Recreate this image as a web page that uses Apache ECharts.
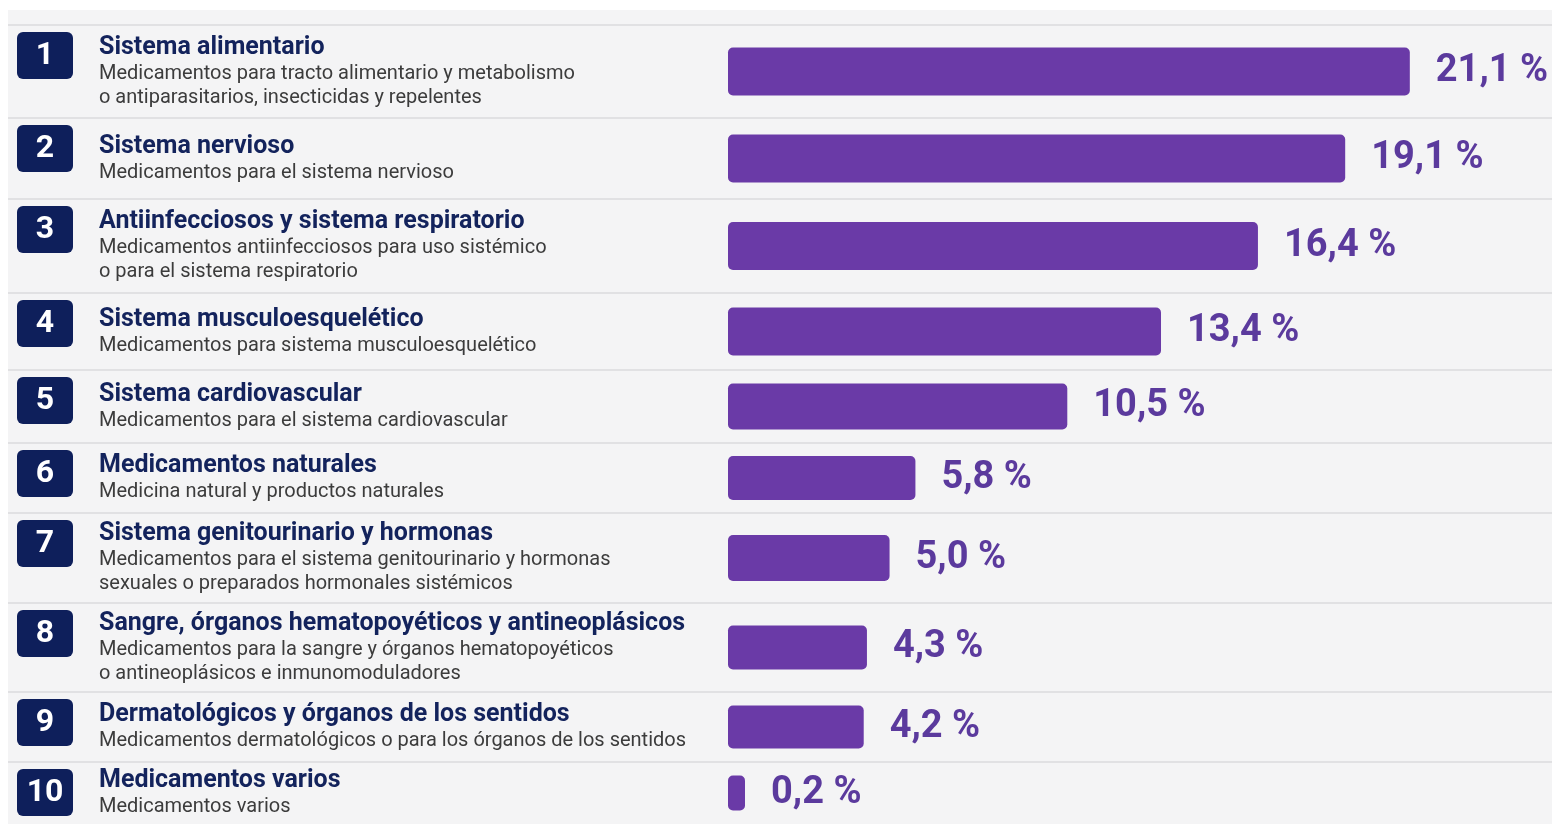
<!DOCTYPE html>
<html lang="es">
<head>
<meta charset="utf-8">
<title>Grupos terapéuticos</title>
<script src="https://cdn.jsdelivr.net/npm/echarts@6/dist/echarts.min.js"></script>
<style>
  html, body { margin: 0; padding: 0; background: #ffffff; }
  #chart { width: 1552px; height: 824px; }
</style>
</head>
<body>
<div id="chart"></div>
<script>
// Therapeutic groups, ranked by share (%)
const titles = [
  'Sistema alimentario',
  'Sistema nervioso',
  'Antiinfecciosos y sistema respiratorio',
  'Sistema musculoesquelético',
  'Sistema cardiovascular',
  'Medicamentos naturales',
  'Sistema genitourinario y hormonas',
  'Sangre, órganos hematopoyéticos y antineoplásicos',
  'Dermatológicos y órganos de los sentidos',
  'Medicamentos varios'
];
const descriptions = [
  'Medicamentos para tracto alimentario y metabolismo\no antiparasitarios, insecticidas y repelentes',
  'Medicamentos para el sistema nervioso',
  'Medicamentos antiinfecciosos para uso sistémico\no para el sistema respiratorio',
  'Medicamentos para sistema musculoesquelético',
  'Medicamentos para el sistema cardiovascular',
  'Medicina natural y productos naturales',
  'Medicamentos para el sistema genitourinario y hormonas\nsexuales o preparados hormonales sistémicos',
  'Medicamentos para la sangre y órganos hematopoyéticos\no antineoplásicos e inmunomoduladores',
  'Medicamentos dermatológicos o para los órganos de los sentidos',
  'Medicamentos varios'
];
const shares = [21.1, 19.1, 16.4, 13.4, 10.5, 5.8, 5.0, 4.3, 4.2, 0.2];

// Layout: horizontal row bands (px) and bar thickness per row
const rowEdges = [25, 118, 199, 293, 370, 443, 513, 603, 692, 762, 824];
const barThickness = [48, 48, 48, 48, 46, 44, 46, 44, 43, 35];

const NAVY = '#0e1f5b';
const PURPLE = '#6a3aa7';
const LABEL_PURPLE = '#5b3a9d';
const PLOT_LEFT = 728;
const TEXT_LEFT = 99;

const fmt = v => v.toFixed(1).replace('.', ',') + ' %';

const grids = [], xAxes = [], yAxes = [], series = [];
const graphics = [
  { type: 'rect', silent: true, z: -10, shape: { x: 8, y: 10, width: 1544, height: 814 }, style: { fill: '#f4f4f5' } }
];

titles.forEach((title, i) => {
  const top = rowEdges[i];
  const h = rowEdges[i + 1] - top;
  grids.push({ left: PLOT_LEFT, right: 0, top: top, height: h });
  xAxes.push({ type: 'value', gridIndex: i, min: 0, max: 25.5, show: false });
  yAxes.push({
    type: 'category', gridIndex: i, data: [title],
    axisLine: { show: false }, axisTick: { show: false }, splitLine: { show: false },
    axisLabel: {
      align: 'left',
      margin: PLOT_LEFT - TEXT_LEFT,
      formatter: () => {
        const lines = descriptions[i].split('\n').map(s => '{s|' + s + '}');
        return '{t|' + title + '}\n' + lines.join('\n');
      },
      rich: {
        t: { fontFamily: 'Roboto', fontWeight: 'bold', fontSize: 25, color: '#13235c', lineHeight: 28 },
        s: { fontFamily: 'Roboto', fontSize: 20, color: '#3c3c3c', lineHeight: 24 }
      }
    }
  });
  series.push({
    type: 'bar', xAxisIndex: i, yAxisIndex: i,
    data: [shares[i]],
    barWidth: barThickness[i],
    barMinHeight: 17,
    itemStyle: { color: PURPLE, borderRadius: 5 },
    label: {
      show: true, position: 'right', distance: 26,
      formatter: p => fmt(p.value),
      fontFamily: 'Roboto', fontWeight: 'bold', fontSize: 38, color: LABEL_PURPLE
    },
    silent: true, animation: false
  });
  // separator line at the top of each row
  graphics.push({ type: 'line', silent: true, z: -5,
    shape: { x1: 8, y1: top, x2: 1552, y2: top },
    style: { stroke: '#e1e1e3', lineWidth: 2 } });
  // rank badge
  graphics.push({ type: 'rect', silent: true,
    shape: { x: 17, y: top + 7, width: 56, height: 47, r: 6 },
    style: { fill: NAVY } });
  graphics.push({ type: 'text', silent: true,
    x: 45, y: top + 7 + 24,
    style: { text: String(i + 1), fill: '#ffffff', font: 'bold 32px Roboto', align: 'center', verticalAlign: 'middle' } });
});

const chart = echarts.init(document.getElementById('chart'));
chart.setOption({
  backgroundColor: '#ffffff',
  animation: false,
  grid: grids,
  xAxis: xAxes,
  yAxis: yAxes,
  series: series,
  graphic: graphics
});
</script>
</body>
</html>
